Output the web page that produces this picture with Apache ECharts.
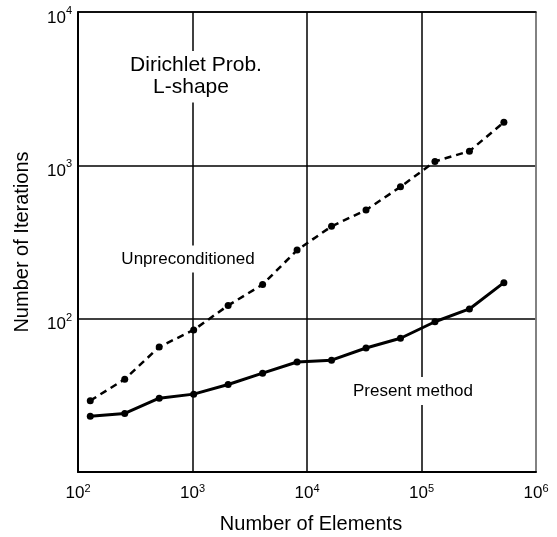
<!DOCTYPE html>
<html>
<head>
<meta charset="utf-8">
<script src="https://cdn.jsdelivr.net/npm/echarts@6/dist/echarts.min.js"></script>
<style>html,body{margin:0;padding:0;background:#fff}#c{width:557px;height:537px}</style>
</head>
<body>
<div id="c"></div>
<script>
var elements = [128, 256, 512, 1024, 2048, 4096, 8192, 16384, 32768, 65536, 131072, 262144, 524288];
var unpreconditioned = [29.2, 40.3, 65.4, 84.4, 122, 167, 280, 400, 511, 724, 1060, 1237, 1911];
var presentMethod = [23.1, 24.1, 30.3, 32.2, 37.2, 44.1, 52.2, 53.6, 64.4, 74.5, 95.5, 115.7, 171.7];
var xName = 'Number of Elements';
var yName = 'Number of Iterations';
var titleLine1 = 'Dirichlet Prob.';
var titleLine2 = 'L-shape';
var labelUnpre = 'Unpreconditioned';
var labelPresent = 'Present method';

var FONT = 'Liberation Sans, Arial, Helvetica, sans-serif';

function pairs(xs, ys) { return xs.map(function (x, i) { return [x, ys[i]]; }); }
function powLabel(v) {
  var e = Math.round(Math.log(v) / Math.LN10);
  return '{b|10}{s|' + e + '}';
}

var chart = echarts.init(document.getElementById('c'), null, { renderer: 'canvas' });
chart.setOption({
  backgroundColor: '#fff',
  animation: false,
  grid: { left: 78, right: 21, top: 12, bottom: 65, containLabel: false, outerBoundsMode: 'none' },
  xAxis: [{
    type: 'log', logBase: 10, min: 100, max: 1e6,
    name: xName, nameLocation: 'middle', nameGap: 42,
    nameTextStyle: { fontFamily: FONT, fontSize: 20, color: '#000', padding: [0, 0, 0, 8] },
    axisLine: { show: true, lineStyle: { color: '#000', width: 2 } },
    axisTick: { show: false },
    minorTick: { show: false },
    splitLine: { show: true, lineStyle: { color: '#000', width: 1.5 } },
    axisLabel: {
      margin: 12,
      formatter: powLabel,
      rich: {
        b: { fontFamily: FONT, fontSize: 17, color: '#000', lineHeight: 17, padding: [2, 0, 0, 0] },
        s: { fontFamily: FONT, fontSize: 11, color: '#000', lineHeight: 11, padding: [0, 0, 8, 0] }
      }
    }
  }, {
    type: 'log', logBase: 10, min: 100, max: 1e6, position: 'top',
    axisLine: { show: true, lineStyle: { color: '#000', width: 1.5 } },
    axisTick: { show: false }, axisLabel: { show: false }, splitLine: { show: false }
  }],
  yAxis: [{
    type: 'log', logBase: 10, min: 10, max: 1e4,
    name: yName, nameLocation: 'middle', nameGap: 46,
    nameTextStyle: { fontFamily: FONT, fontSize: 20, color: '#000' },
    axisLine: { show: true, lineStyle: { color: '#000', width: 2 } },
    axisTick: { show: false },
    splitLine: { show: true, lineStyle: { color: '#000', width: 1.5 } },
    axisLabel: {
      margin: 6,
      formatter: function (v) {
        var e = Math.round(Math.log(v) / Math.LN10);
        if (e === 1) return '';
        return powLabel(v);
      },
      rich: {
        b: { fontFamily: FONT, fontSize: 17, color: '#000', lineHeight: 17, padding: [12, 0, 0, 0] },
        s: { fontFamily: FONT, fontSize: 11, color: '#000', lineHeight: 11, padding: [8, 0, 10, 0] }
      }
    }
  }, {
    type: 'log', logBase: 10, min: 10, max: 1e4, position: 'right',
    axisLine: { show: true, lineStyle: { color: '#999', width: 1.5 } },
    axisTick: { show: false }, axisLabel: { show: false }, splitLine: { show: false }
  }],
  series: [{
    type: 'line', name: labelUnpre,
    data: pairs(elements, unpreconditioned),
    symbol: 'circle', symbolSize: 7,
    itemStyle: { color: '#000' },
    lineStyle: { color: '#000', width: 2.5, type: [7, 5] },
    z: 5
  }, {
    type: 'line', name: labelPresent,
    data: pairs(elements, presentMethod),
    symbol: 'circle', symbolSize: 7,
    itemStyle: { color: '#000' },
    lineStyle: { color: '#000', width: 3 },
    z: 5
  }],
  graphic: [
    { type: 'text', x: 196, y: 65, z: 10,
      style: { text: titleLine1, font: '21px ' + FONT, fill: '#000', align: 'center', verticalAlign: 'middle',
               backgroundColor: '#fff', padding: [7, 2, 0, 2], lineHeight: 21 } },
    { type: 'text', x: 191, y: 87, z: 10,
      style: { text: titleLine2, font: '21px ' + FONT, fill: '#000', align: 'center', verticalAlign: 'middle',
               backgroundColor: '#fff', padding: [0, 2, 10, 2], lineHeight: 21 } },
    { type: 'text', x: 188, y: 259, z: 10,
      style: { text: labelUnpre, font: '17px ' + FONT, fill: '#000', align: 'center', verticalAlign: 'middle',
               backgroundColor: '#fff', padding: [5, 2, 5, 2], lineHeight: 17 } },
    { type: 'text', x: 413, y: 391, z: 10,
      style: { text: labelPresent, font: '17px ' + FONT, fill: '#000', align: 'center', verticalAlign: 'middle',
               backgroundColor: '#fff', padding: [7, 2, 4, 2], lineHeight: 17 } }
  ]
});
</script>
</body>
</html>
